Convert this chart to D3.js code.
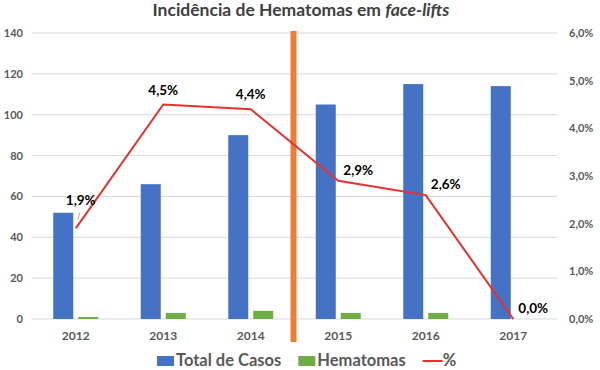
<!DOCTYPE html>
<html><head><meta charset="utf-8">
<script src="https://cdn.jsdelivr.net/npm/d3@7"></script>
<style>html,body{margin:0;padding:0;background:#fff;}svg{display:block;font-family:Lato,"Open Sans",sans-serif;}</style>
</head><body>
<svg id="c" width="600" height="370"></svg>
<script>
const years = ["2012","2013","2014","2015","2016","2017"];
const totalCasos = [52, 66, 90, 105, 115, 114];
const hematomas = [1, 3, 4, 3, 3, 0];
const percent = [1.9, 4.5, 4.4, 2.9, 2.6, 0.0];
const percentLabels = ["1,9%","4,5%","4,4%","2,9%","2,6%","0,0%"];
const leftTicks = [0,20,40,60,80,100,120,140];
const rightTicks = [0,1,2,3,4,5,6];
const rightTickLabels = ["0,0%","1,0%","2,0%","3,0%","4,0%","5,0%","6,0%"];
const seriesNames = ["Total de Casos","Hematomas","%"];

const svg = d3.select("#c");
const L = 32, R = 557, T = 33, B = 319;
const textGray = "#595959";

const x = d3.scaleBand().domain(years).range([L, R]).padding(0);
const x1 = d3.scaleBand().domain(["t","h"]).range([-22.5, 22.5]).paddingInner(0.2);
const y = d3.scaleLinear().domain([0, 140]).range([B, T]);
const y2 = d3.scaleLinear().domain([0, 6]).range([B, T]);

// gridlines
svg.append("g").selectAll("line").data(leftTicks).join("line")
  .attr("x1", L).attr("x2", R).attr("y1", d => y(d)).attr("y2", d => y(d))
  .attr("stroke", "#d9d9d9").attr("stroke-width", 1);

// left axis
const yAxis = d3.axisLeft(y).tickValues(leftTicks).tickSize(0).tickPadding(0);
const gl = svg.append("g").attr("transform", `translate(23,0)`).call(yAxis);
gl.select(".domain").remove();
gl.selectAll("text").attr("fill", textGray).attr("font-size", 11).attr("font-weight", "bold")
  .attr("font-family", "Lato, sans-serif");

// right axis
const yAxis2 = d3.axisRight(y2).tickValues(rightTicks).tickSize(0).tickPadding(0)
  .tickFormat(d => rightTickLabels[rightTicks.indexOf(d)]);
const gr = svg.append("g").attr("transform", `translate(569,0)`).call(yAxis2);
gr.select(".domain").remove();
gr.selectAll("text").attr("fill", textGray).attr("font-size", 11).attr("font-weight", "bold")
  .attr("font-family", "Lato, sans-serif");

// x axis labels
const xAxis = d3.axisBottom(x).tickSize(0).tickPadding(0);
const gx = svg.append("g").attr("transform", `translate(0,331)`).call(xAxis);
gx.select(".domain").remove();
gx.selectAll("text").attr("fill", textGray).attr("font-size", 12).attr("font-weight", "bold")
  .attr("font-family", "Lato, sans-serif");

// bars
const cx = d => x(d) + x.bandwidth() / 2;
svg.append("g").selectAll("rect").data(years).join("rect")
  .attr("x", (d) => cx(d) + x1("t")).attr("width", x1.bandwidth())
  .attr("y", (d, i) => y(totalCasos[i])).attr("height", (d, i) => y(0) - y(totalCasos[i]))
  .attr("fill", "#4472C4");
svg.append("g").selectAll("rect").data(years).join("rect")
  .attr("x", (d) => cx(d) + x1("h")).attr("width", x1.bandwidth())
  .attr("y", (d, i) => y(hematomas[i])).attr("height", (d, i) => y(0) - y(hematomas[i]))
  .attr("fill", "#70AD47");

// orange separator between 2014 and 2015
const sepX = x("2015");
svg.append("rect").attr("x", sepX - 4).attr("width", 6).attr("y", 31).attr("height", 311)
  .attr("fill", "#ED7D31");

// percent line
const line = d3.line().x((d, i) => cx(years[i])).y(d => y2(d));
svg.append("path").datum(percent).attr("d", line).attr("fill", "none")
  .attr("stroke", "#E8312F").attr("stroke-width", 2);

// data labels
const offset = i => i === 0 ? [5, -23] : (i < 3 ? [0, -10] : [20, -6]);
svg.append("g").selectAll("text").data(percent).join("text")
  .attr("x", (d, i) => cx(years[i]) + offset(i)[0])
  .attr("y", (d, i) => y2(d) + offset(i)[1])
  .attr("text-anchor", "middle").attr("font-size", 13.5).attr("font-weight", "bold")
  .attr("fill", "#000").text((d, i) => percentLabels[i]);
// leader line for first label
svg.append("line")
  .attr("x1", cx(years[0]) + 4).attr("y1", y2(percent[0]) - 16)
  .attr("x2", cx(years[0]) + 2).attr("y2", y2(percent[0]) - 8)
  .attr("stroke", "#a6a6a6").attr("stroke-width", 0.8);

// title
const title = svg.append("text").attr("x", 301).attr("y", 16).attr("text-anchor", "middle")
  .attr("font-size", 17.5).attr("font-weight", "bold").attr("fill", "#404040");
title.append("tspan").text("Incidência de Hematomas em ");
title.append("tspan").attr("font-style", "italic").text("face-lifts");

// legend
const lg = svg.append("g");
const legendY = 361;
let lx = 157;
const colors = ["#4472C4", "#70AD47", "#E8312F"];
seriesNames.forEach((name, i) => {
  if (i < 2) {
    lg.append("rect").attr("x", lx).attr("y", legendY - 5).attr("width", 17).attr("height", 10).attr("fill", colors[i]);
    lx += 19;
  } else {
    lg.append("line").attr("x1", lx).attr("x2", lx + 20).attr("y1", legendY).attr("y2", legendY)
      .attr("stroke", colors[i]).attr("stroke-width", 2);
    lx += 20;
  }
  const t = lg.append("text").attr("x", lx).attr("y", legendY + 5).attr("font-size", 16.5)
    .attr("font-weight", "bold").attr("fill", textGray).text(name);
  lx += t.node().getComputedTextLength() + 17;
});
</script>
</body></html>
